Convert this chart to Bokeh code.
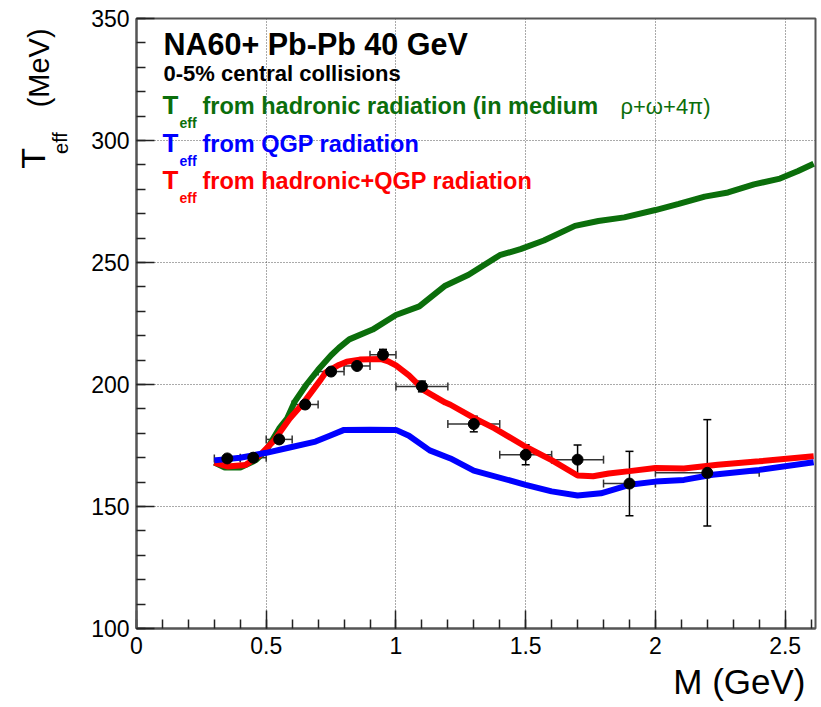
from bokeh.plotting import figure
from bokeh.layouts import row
from bokeh.core.properties import value
from bokeh.models import (Range1d, SingleIntervalTicker, Label, Whisker,
                          ColumnDataSource, TeeHead, Title)
from bokeh.embed import file_html
from bokeh.resources import INLINE

# Measured effective temperature versus dimuon mass
mass = [0.35, 0.45, 0.55, 0.65, 0.75, 0.85, 0.95, 1.1, 1.3, 1.5, 1.7, 1.9, 2.2]
teff = [169.7, 170.0, 177.5, 191.8, 205.3, 207.6, 212.2, 199.2, 183.8, 171.2, 169.2, 159.4, 163.8]
mass_err = [0.05, 0.05, 0.05, 0.05, 0.05, 0.05, 0.05, 0.1, 0.1, 0.1, 0.1, 0.1, 0.2]
teff_err = [1.0, 1.0, 1.5, 1.5, 1.2, 1.2, 2.2, 2.2, 3.2, 4.1, 6.0, 13.2, 21.8]

# Model curves
had_m = [0.30, 0.34, 0.40, 0.46, 0.50, 0.55, 0.58, 0.61, 0.655, 0.70, 0.75, 0.78, 0.82,
         0.91, 1.0, 1.09, 1.19, 1.28, 1.40, 1.48, 1.57, 1.69, 1.78, 1.88, 2.0, 2.09,
         2.19, 2.28, 2.38, 2.48, 2.55, 2.61]
had_t = [168.0, 166.0, 166.0, 169.0, 173.0, 182.0, 186.0, 193.0, 200.0, 206.0, 212.0, 215.0,
         218.5, 222.5, 228.5, 232.0, 240.5, 245.0, 253.0, 255.5, 259.0, 265.0, 267.0, 268.5,
         271.5, 274.0, 277.0, 278.7, 282.0, 284.4, 287.5, 290.5]

qgp_m = [0.30, 0.40, 0.50, 0.59, 0.69, 0.745, 0.80, 0.90, 1.0, 1.05, 1.13, 1.21, 1.30,
         1.50, 1.60, 1.70, 1.79, 1.90, 2.0, 2.11, 2.22, 2.40, 2.61]
qgp_t = [168.9, 170.0, 172.0, 174.2, 176.6, 179.0, 181.4, 181.5, 181.4, 179.0, 173.0, 169.7,
         164.7, 158.9, 156.2, 154.5, 155.4, 158.9, 160.2, 160.9, 163.0, 165.0, 168.1]

sum_m = [0.30, 0.35, 0.42, 0.475, 0.53, 0.59, 0.64, 0.71, 0.73, 0.78, 0.81, 0.86, 0.94,
         0.97, 1.0, 1.05, 1.11, 1.19, 1.21, 1.30, 1.38, 1.50, 1.60, 1.70, 1.76, 1.82,
         1.90, 2.0, 2.11, 2.24, 2.40, 2.61]
sum_t = [168.0, 166.4, 167.0, 171.0, 177.0, 186.0, 192.0, 202.0, 205.0, 208.0, 209.3, 210.2,
         210.5, 209.5, 207.8, 203.7, 197.5, 192.6, 191.7, 186.3, 182.0, 174.5, 169.0, 162.7,
         162.4, 163.5, 164.5, 165.8, 165.6, 167.1, 168.5, 170.6]

X0, X1 = 0.0, 2.617
Y0, Y1 = 100.0, 350.0
W, H = 821, 707
PANEL_W = 80          # strip holding the vertical axis title
FL, FR, FT, FB = 136, 815, 18, 628   # frame edges on the page
BASE_SHIFT = 0.4      # baseline correction, in units of the font size

GREEN = "#0b6e0b"
BLUE = "#0000ff"
RED = "#ff0000"
FONT = "Liberation Sans"

p = figure(width=W - PANEL_W, height=H, output_backend="svg",
           toolbar_location=None,
           x_range=Range1d(X0, X1), y_range=Range1d(Y0, Y1),
           min_border_left=FL - PANEL_W, min_border_right=W - FR,
           min_border_top=FT, min_border_bottom=H - FB)
p.background_fill_color = "white"
p.border_fill_color = "white"
p.outline_line_color = "#555555"
p.outline_line_width = 2

# axes in the ROOT look: ticks pointing inward
for ax in (p.xaxis[0], p.yaxis[0]):
    ax.axis_line_color = "#555555"
    ax.axis_line_width = 2
    ax.major_tick_in = 18
    ax.major_tick_out = 0
    ax.minor_tick_in = 9
    ax.minor_tick_out = 0
    ax.major_tick_line_color = "#222222"
    ax.minor_tick_line_color = "#222222"
    ax.major_tick_line_width = 1.5
    ax.minor_tick_line_width = 1.5
    ax.major_label_text_font = FONT
    ax.major_label_text_font_size = "23px"
    ax.major_label_text_color = "black"

p.xaxis.ticker = SingleIntervalTicker(interval=0.5, num_minor_ticks=5)
p.yaxis.ticker = SingleIntervalTicker(interval=50, num_minor_ticks=5)
p.xaxis.major_label_standoff = 8
p.yaxis.major_label_standoff = 7

for g in (p.xgrid[0], p.ygrid[0]):
    g.grid_line_color = "#555555"
    g.grid_line_dash = "1 2"
    g.grid_line_width = 1

# horizontal axis title, right-aligned under the axis
p.add_layout(Title(text="M (GeV)", align="right", text_font=FONT, text_font_size="35px",
                   text_font_style="normal", text_color="black", offset=10, standoff=7),
             "below")

# model curves
p.line(had_m, had_t, line_color=GREEN, line_width=6)
p.line(sum_m, sum_t, line_color=RED, line_width=6)
p.line(qgp_m, qgp_t, line_color=BLUE, line_width=6)

# data points with error bars
src = ColumnDataSource(dict(
    x=mass, y=teff,
    xl=[m - e for m, e in zip(mass, mass_err)],
    xu=[m + e for m, e in zip(mass, mass_err)],
    yl=[t - e for t, e in zip(teff, teff_err)],
    yu=[t + e for t, e in zip(teff, teff_err)],
))
p.add_layout(Whisker(source=src, base="y", lower="xl", upper="xu", dimension="width",
                     line_color="#333333", line_width=1.5,
                     lower_head=TeeHead(size=8, line_color="#333333", line_width=1.5),
                     upper_head=TeeHead(size=8, line_color="#333333", line_width=1.5)))
p.add_layout(Whisker(source=src, base="x", lower="yl", upper="yu", dimension="height",
                     line_color="black", line_width=1.5,
                     lower_head=TeeHead(size=8, line_color="black", line_width=1.5),
                     upper_head=TeeHead(size=8, line_color="black", line_width=1.5)))
p.scatter("x", "y", source=src, size=11, color="black")


def to_data(px, py):
    return (X0 + (px - FL) / (FR - FL) * (X1 - X0), Y0 + (FB - py) / (FB - FT) * (Y1 - Y0))


def text(px, py, s, size, color="black", bold=False):
    """Place text with its baseline at page pixel row py."""
    x, y = to_data(px, py - BASE_SHIFT * size)
    p.add_layout(Label(x=x, y=y, text=s, text_font=FONT, text_font_size=f"{size}px",
                       text_color=color, text_font_style="bold" if bold else "normal",
                       text_align="left", text_baseline="alphabetic"))


# header
text(163, 56, "NA60+ Pb-Pb 40 GeV", 30.5, bold=True)
text(163, 82, "0-5% central collisions", 22, bold=True)

# legend entries
rows = [
    (115, GREEN, "from hadronic radiation (in medium"),
    (153, BLUE, "from QGP radiation"),
    (190, RED, "from hadronic+QGP radiation"),
]
for base, col, s in rows:
    text(162, base, "T", 26, col, bold=True)
    text(179, base + 13, "eff", 14, col, bold=True)
    text(202, base, s, 23.5, col, bold=True)
text(620, 115, "\u03c1+\u03c9+4\u03c0)", 22, GREEN)

# vertical axis title: T_eff (MeV), drawn in its own narrow panel
left = figure(width=PANEL_W, height=H, output_backend="svg", toolbar_location=None,
              x_range=Range1d(0, PANEL_W), y_range=Range1d(0, H), min_border=0)
left.axis.visible = False
left.grid.visible = False
left.outline_line_color = None
left.background_fill_color = "white"
left.border_fill_color = "white"


def vtext(px, py, s, size):
    """Upward-reading text starting at page row py, baseline at page column px."""
    left.text(x=[px - BASE_SHIFT * size], y=[H - py], text=[s], angle=1.5708,
              text_font=value(FONT), text_font_size=value(f"{size}px"),
              text_baseline="alphabetic", text_align="left", text_color="black")


vtext(46, 174, "T", 34)
vtext(68, 157, "eff", 20)
vtext(50, 103, "(MeV)", 29)

layout = row(left, p, spacing=0)
open("out.html", "w").write(file_html(layout, INLINE))
